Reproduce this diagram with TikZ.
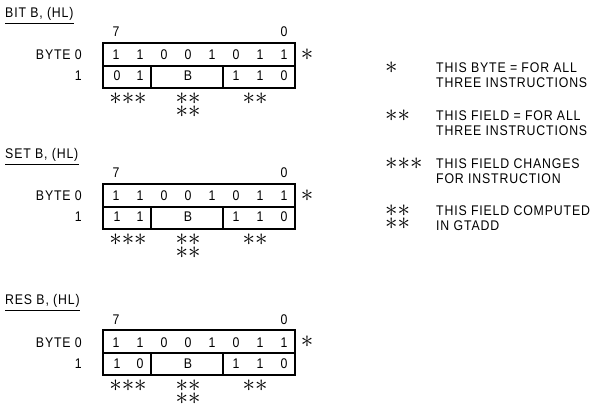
\documentclass[tikz,border=0pt]{standalone}
\usepackage{fontspec}
\setmainfont{Liberation Sans}[FakeStretch=0.88, LetterSpace=6]
\newcommand\BitBlock[5]{%
 \begin{scope}[shift={(0,#2)}]
  \node[lbl, anchor=west] (#1title) at (5,13) {#3};
  \draw[uline] ([yshift=-5pt]#1title.south west) -- ([yshift=-5pt]#1title.south east);
  \node[bit] (#1hi) at (116,32) {7};
  \node[bit] (#1lo) at (284,32) {0};
  \node[lbl, anchor=east] (#1byte) at (82,55) {BYTE 0};
  \node[lbl, anchor=east] (#1one) at (82,76) {1};
  \node[cell, minimum width=192pt, minimum height=23pt] (#1row) at (199,54.5) {};
  \node[cell, minimum width=48pt, minimum height=22pt] (#1ca) at (127,77) {};
  \node[cell, minimum width=72pt, minimum height=22pt] (#1cb) at (187,77) {};
  \node[cell, minimum width=72pt, minimum height=22pt] (#1cc) at (259,77) {};
  \foreach \b [count=\i from 0] in {1,1,0,0,1,0,1,1}
    \node[bit] (#1r\i) at (116+24*\i,55) {\b};
  \node[bit] (#1sa) at (117,76) {#4};
  \node[bit] (#1sb) at (140,76) {#5};
  \node[bit] (#1sB) at (188,76) {B};
  \node[bit] (#1sc) at (236,76) {1};
  \node[bit] (#1sd) at (260,76) {1};
  \node[bit] (#1se) at (284,76) {0};
  \node[starg] (#1st0) at (307,55) {$\ast$};
  \node[starg] (#1st1) at (128,99) {${\ast}{\ast}{\ast}$};
  \node[starg, align=center] (#1st2) at (188,105.5) {${\ast}{\ast}$\\${\ast}{\ast}$};
  \node[starg] (#1st4) at (255,99) {${\ast}{\ast}$};
 \end{scope}}
\begin{document}
\begin{tikzpicture}[x=1pt,y=-1pt,
  lbl/.style={inner sep=0pt, text height=10pt, text depth=0pt, font=\fontsize{14}{15}\selectfont},
  bit/.style={lbl, anchor=center},
  starg/.style={inner sep=0pt, font=\fontsize{24.88}{13}\selectfont},
  cell/.style={draw, line width=1.3pt, inner sep=0pt},
  uline/.style={line width=1pt}]
\useasboundingbox (0,0) rectangle (595,409);
\BitBlock{a}{0}{BIT B, (HL)}{0}{1}
\BitBlock{b}{141}{SET B, (HL)}{1}{1}
\BitBlock{c}{287}{RES B, (HL)}{1}{0}
% legend
\node[starg, anchor=west] (l1s) at (385,68) {$\ast$};
\node[lbl, anchor=west] (l1a) at (436,68) {THIS BYTE = FOR ALL};
\node[lbl, anchor=west] (l1b) at (436,83) {THREE INSTRUCTIONS};
\node[starg, anchor=west] (l2s) at (385,116) {${\ast}{\ast}$};
\node[lbl, anchor=west] (l2a) at (436,116) {THIS FIELD = FOR ALL};
\node[lbl, anchor=west] (l2b) at (436,131) {THREE INSTRUCTIONS};
\node[starg, anchor=west] (l3s) at (385,164) {${\ast}{\ast}{\ast}$};
\node[lbl, anchor=west] (l3a) at (436,164) {THIS FIELD CHANGES};
\node[lbl, anchor=west] (l3b) at (436,179) {FOR INSTRUCTION};
\node[starg, anchor=west, align=left] (l4s) at (385,217) {${\ast}{\ast}$\\${\ast}{\ast}$};
\node[lbl, anchor=west] (l4a) at (436,211) {THIS FIELD COMPUTED};
\node[lbl, anchor=west] (l4b) at (436,225) {IN GTADD};
\end{tikzpicture}
\end{document}
